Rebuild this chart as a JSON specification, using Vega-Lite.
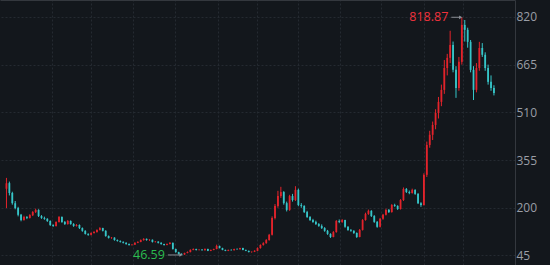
{
  "$schema": "https://vega.github.io/schema/vega-lite/v6.json",
  "width": 515,
  "height": 265,
  "autosize": {"type": "none"},
  "padding": {"left": 0, "top": 0, "bottom": 0, "right": 35},
  "background": "#13171c",
  "config": {"view": {"stroke": null}, "font": "Open Sans"},
  "datasets": {
    "k": [
      {"t":0,"o":262,"h":297,"l":199,"c":280},{"t":1,"o":280,"h":285,"l":240,"c":248},{"t":2,"o":248,"h":252,"l":210,"c":215},{"t":3,"o":215,"h":222,"l":195,"c":199},{"t":4,"o":199,"h":203,"l":172,"c":177},{"t":5,"o":177,"h":180,"l":156,"c":160},{"t":6,"o":160,"h":174,"l":158,"c":170},{"t":7,"o":170,"h":173,"l":163,"c":167},{"t":8,"o":167,"h":179,"l":165,"c":176},{"t":9,"o":176,"h":189,"l":173,"c":186},
      {"t":10,"o":186,"h":197,"l":183,"c":193},{"t":11,"o":193,"h":195,"l":170,"c":173},{"t":12,"o":173,"h":176,"l":164,"c":167},{"t":13,"o":167,"h":171,"l":161,"c":164},{"t":14,"o":164,"h":166,"l":154,"c":157},{"t":15,"o":157,"h":159,"l":141,"c":144},{"t":16,"o":144,"h":146,"l":138,"c":141},{"t":17,"o":141,"h":156,"l":139,"c":154},{"t":18,"o":154,"h":173,"l":152,"c":170},{"t":19,"o":170,"h":172,"l":151,"c":154},
      {"t":20,"o":154,"h":157,"l":144,"c":147},{"t":21,"o":147,"h":160,"l":145,"c":157},{"t":22,"o":157,"h":159,"l":145,"c":147},{"t":23,"o":147,"h":150,"l":138,"c":141},{"t":24,"o":141,"h":147,"l":139,"c":144},{"t":25,"o":144,"h":146,"l":131,"c":134},{"t":26,"o":134,"h":136,"l":122,"c":125},{"t":27,"o":125,"h":127,"l":113,"c":115},{"t":28,"o":115,"h":117,"l":109,"c":112},{"t":29,"o":112,"h":120,"l":110,"c":118},
      {"t":30,"o":118,"h":124,"l":116,"c":121},{"t":31,"o":121,"h":130,"l":119,"c":128},{"t":32,"o":128,"h":137,"l":126,"c":134},{"t":33,"o":134,"h":135,"l":123,"c":125},{"t":34,"o":125,"h":127,"l":106,"c":108},{"t":35,"o":108,"h":110,"l":100,"c":102},{"t":36,"o":102,"h":105,"l":99,"c":103},{"t":37,"o":103,"h":104,"l":93,"c":95},{"t":38,"o":95,"h":97,"l":90,"c":92},{"t":39,"o":92,"h":94,"l":87,"c":89},
      {"t":40,"o":89,"h":91,"l":84,"c":86},{"t":41,"o":86,"h":88,"l":80,"c":82},{"t":42,"o":82,"h":84,"l":77,"c":79},{"t":43,"o":79,"h":82,"l":77,"c":80},{"t":44,"o":80,"h":88,"l":79,"c":86},{"t":45,"o":86,"h":91,"l":85,"c":89},{"t":46,"o":89,"h":97,"l":88,"c":95},{"t":47,"o":95,"h":101,"l":93,"c":99},{"t":48,"o":99,"h":100,"l":93,"c":95},{"t":49,"o":95,"h":98,"l":92,"c":96},
      {"t":50,"o":96,"h":97,"l":87,"c":89},{"t":51,"o":89,"h":92,"l":87,"c":90},{"t":52,"o":90,"h":91,"l":84,"c":86},{"t":53,"o":86,"h":88,"l":80,"c":82},{"t":54,"o":82,"h":83,"l":77,"c":79},{"t":55,"o":79,"h":84,"l":78,"c":82},{"t":56,"o":82,"h":88,"l":81,"c":86},{"t":57,"o":86,"h":87,"l":64,"c":66},{"t":58,"o":66,"h":67,"l":54,"c":56},{"t":59,"o":56,"h":57,"l":48,"c":50},
      {"t":60,"o":50,"h":52,"l":46.59,"c":48},{"t":61,"o":48,"h":54,"l":47,"c":53},{"t":62,"o":53,"h":58,"l":52,"c":56},{"t":63,"o":56,"h":65,"l":55,"c":63},{"t":64,"o":63,"h":68,"l":62,"c":66},{"t":65,"o":66,"h":67,"l":61,"c":63},{"t":66,"o":63,"h":65,"l":61,"c":64},{"t":67,"o":64,"h":65,"l":61,"c":62},{"t":68,"o":62,"h":68,"l":61,"c":66},{"t":69,"o":66,"h":67,"l":59,"c":60},
      {"t":70,"o":60,"h":64,"l":59,"c":63},{"t":71,"o":63,"h":67,"l":62,"c":66},{"t":72,"o":66,"h":80,"l":65,"c":76},{"t":73,"o":76,"h":77,"l":68,"c":69},{"t":74,"o":69,"h":70,"l":62,"c":63},{"t":75,"o":63,"h":64,"l":59,"c":60},{"t":76,"o":60,"h":64,"l":59,"c":63},{"t":77,"o":63,"h":65,"l":61,"c":62},{"t":78,"o":62,"h":67,"l":61,"c":66},{"t":79,"o":66,"h":68,"l":64,"c":65},
      {"t":80,"o":65,"h":70,"l":64,"c":69},{"t":81,"o":69,"h":70,"l":62,"c":63},{"t":82,"o":63,"h":64,"l":59,"c":60},{"t":83,"o":60,"h":61,"l":55,"c":56},{"t":84,"o":56,"h":58,"l":54,"c":57},{"t":85,"o":57,"h":62,"l":56,"c":60},{"t":86,"o":60,"h":71,"l":59,"c":69},{"t":87,"o":69,"h":81,"l":67,"c":79},{"t":88,"o":79,"h":88,"l":77,"c":85},{"t":89,"o":85,"h":98,"l":83,"c":95},
      {"t":90,"o":95,"h":115,"l":93,"c":112},{"t":91,"o":112,"h":172,"l":110,"c":167},{"t":92,"o":167,"h":212,"l":162,"c":206},{"t":93,"o":206,"h":255,"l":200,"c":238},{"t":94,"o":238,"h":268,"l":232,"c":251},{"t":95,"o":251,"h":254,"l":210,"c":215},{"t":96,"o":215,"h":220,"l":188,"c":193},{"t":97,"o":193,"h":242,"l":190,"c":238},{"t":98,"o":238,"h":245,"l":220,"c":225},{"t":99,"o":225,"h":270,"l":222,"c":258},
      {"t":100,"o":258,"h":262,"l":205,"c":209},{"t":101,"o":209,"h":215,"l":200,"c":206},{"t":102,"o":206,"h":208,"l":183,"c":186},{"t":103,"o":186,"h":190,"l":167,"c":170},{"t":104,"o":170,"h":173,"l":157,"c":160},{"t":105,"o":160,"h":164,"l":151,"c":154},{"t":106,"o":154,"h":158,"l":144,"c":147},{"t":107,"o":147,"h":150,"l":138,"c":141},{"t":108,"o":141,"h":146,"l":131,"c":134},{"t":109,"o":134,"h":137,"l":122,"c":125},
      {"t":110,"o":125,"h":128,"l":112,"c":115},{"t":111,"o":115,"h":117,"l":102,"c":105},{"t":112,"o":105,"h":124,"l":104,"c":121},{"t":113,"o":121,"h":160,"l":119,"c":157},{"t":114,"o":157,"h":162,"l":150,"c":154},{"t":115,"o":154,"h":163,"l":151,"c":160},{"t":116,"o":160,"h":161,"l":135,"c":138},{"t":117,"o":138,"h":140,"l":125,"c":128},{"t":118,"o":128,"h":131,"l":122,"c":125},{"t":119,"o":125,"h":127,"l":115,"c":118},
      {"t":120,"o":118,"h":120,"l":102,"c":105},{"t":121,"o":105,"h":131,"l":104,"c":128},{"t":122,"o":128,"h":163,"l":126,"c":160},{"t":123,"o":160,"h":184,"l":158,"c":180},{"t":124,"o":180,"h":194,"l":177,"c":190},{"t":125,"o":190,"h":192,"l":170,"c":173},{"t":126,"o":173,"h":176,"l":151,"c":154},{"t":127,"o":154,"h":157,"l":135,"c":138},{"t":128,"o":138,"h":167,"l":136,"c":164},{"t":129,"o":164,"h":180,"l":161,"c":177},
      {"t":130,"o":177,"h":197,"l":175,"c":193},{"t":131,"o":193,"h":196,"l":183,"c":186},{"t":132,"o":186,"h":212,"l":184,"c":209},{"t":133,"o":209,"h":213,"l":203,"c":206},{"t":134,"o":206,"h":208,"l":193,"c":196},{"t":135,"o":196,"h":228,"l":194,"c":225},{"t":136,"o":225,"h":266,"l":222,"c":261},{"t":137,"o":261,"h":264,"l":248,"c":251},{"t":138,"o":251,"h":256,"l":244,"c":248},{"t":139,"o":248,"h":262,"l":246,"c":258},
      {"t":140,"o":258,"h":260,"l":242,"c":245},{"t":141,"o":245,"h":248,"l":212,"c":215},{"t":142,"o":215,"h":218,"l":203,"c":209},{"t":143,"o":209,"h":312,"l":207,"c":307},{"t":144,"o":307,"h":415,"l":300,"c":404},{"t":145,"o":404,"h":450,"l":395,"c":437},{"t":146,"o":437,"h":480,"l":420,"c":469},{"t":147,"o":469,"h":520,"l":455,"c":508},{"t":148,"o":508,"h":560,"l":490,"c":544},{"t":149,"o":544,"h":600,"l":530,"c":583},
      {"t":150,"o":583,"h":680,"l":570,"c":654},{"t":151,"o":654,"h":700,"l":630,"c":687},{"t":152,"o":687,"h":775,"l":670,"c":729},{"t":153,"o":729,"h":740,"l":640,"c":648},{"t":154,"o":648,"h":660,"l":557,"c":589},{"t":155,"o":589,"h":690,"l":580,"c":674},{"t":156,"o":674,"h":818.87,"l":665,"c":794},{"t":157,"o":794,"h":810,"l":740,"c":778},{"t":158,"o":778,"h":785,"l":720,"c":739},{"t":159,"o":739,"h":745,"l":640,"c":648},
      {"t":160,"o":648,"h":660,"l":550,"c":583},{"t":161,"o":583,"h":670,"l":575,"c":654},{"t":162,"o":654,"h":739,"l":645,"c":719},{"t":163,"o":719,"h":735,"l":690,"c":697},{"t":164,"o":697,"h":705,"l":645,"c":654},{"t":165,"o":654,"h":665,"l":600,"c":609},{"t":166,"o":609,"h":630,"l":580,"c":589},{"t":167,"o":589,"h":598,"l":565,"c":573}
    ],
    "ann": [
      {"kind":"hi","t":156,"v":818.87,"label":"818.87","a0":152.4,"a1":155.6},
      {"kind":"lo","t":60,"v":46.59,"label":"46.59","a0":55.3,"a1":59.8}
    ]
  },
  "layer": [
    {
      "data": {"name": "k"},
      "mark": {"type": "rule", "strokeWidth": 1},
      "encoding": {
        "x": {"field": "t", "type": "quantitative",
          "scale": {"domain": [-0.5, 172.5], "nice": false, "zero": false},
          "axis": {"orient": "top", "title": null, "labels": false, "ticks": false,
            "domain": true, "domainColor": "#34383e", "domainWidth": 1,
            "grid": true, "gridColor": "#252a31", "gridDash": [2, 2],
            "values": [15.6, 29.1, 43.2, 57.6, 72.4, 85.8, 99.9, 114.4, 128.2, 142.9, 156.4]}},
        "y": {"field": "l", "type": "quantitative",
          "scale": {"domain": [14, 875], "nice": false, "zero": false},
          "axis": {"orient": "right", "title": null, "values": [45, 200, 355, 510, 665, 820],
            "ticks": false, "domain": true, "domainColor": "#34383e",
            "grid": true, "gridColor": "#252a31", "gridDash": [2, 2],
            "labelColor": "#9a9ea6", "labelFontSize": 12, "labelPadding": 1, "labelFont": "Open Sans"}},
        "y2": {"field": "h"},
        "color": {"condition": {"test": "datum.c >= datum.o", "value": "#e3232b"}, "value": "#36c5c8"}
      }
    },
    {
      "data": {"name": "k"},
      "mark": {"type": "bar", "width": 1.8},
      "encoding": {
        "x": {"field": "t", "type": "quantitative"},
        "y": {"field": "o", "type": "quantitative"},
        "y2": {"field": "c"},
        "color": {"condition": {"test": "datum.c >= datum.o", "value": "#e3232b"}, "value": "#36c5c8"}
      }
    },
    {
      "data": {"name": "ann"},
      "mark": {"type": "rule", "color": "#8a8e95", "strokeWidth": 1},
      "encoding": {
        "x": {"field": "a0", "type": "quantitative"},
        "x2": {"field": "a1"},
        "y": {"field": "v", "type": "quantitative"}
      }
    },
    {
      "data": {"name": "ann"},
      "mark": {"type": "point", "shape": "triangle-right", "filled": true, "size": 14, "color": "#8a8e95", "opacity": 1},
      "encoding": {
        "x": {"field": "a1", "type": "quantitative"},
        "y": {"field": "v", "type": "quantitative"}
      }
    },
    {
      "data": {"name": "ann"},
      "mark": {"type": "text", "align": "right", "baseline": "middle", "fontSize": 12.5, "font": "Open Sans"},
      "encoding": {
        "x": {"field": "a0", "type": "quantitative"},
        "y": {"field": "v", "type": "quantitative"},
        "text": {"field": "label"},
        "xOffset": {"value": -3},
        "color": {"field": "kind", "type": "nominal", "scale": {"domain": ["hi", "lo"], "range": ["#f0323c", "#2bbd4f"]}, "legend": null}
      }
    }
  ]
}
